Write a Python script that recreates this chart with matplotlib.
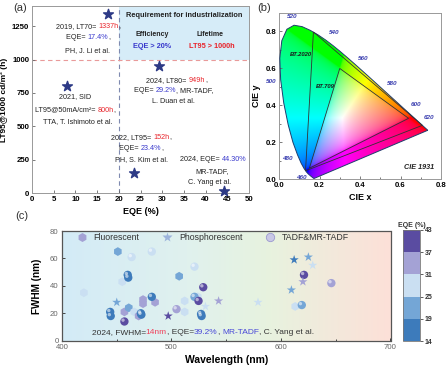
import numpy as np
import matplotlib
matplotlib.use('Agg')
import matplotlib.pyplot as plt
import matplotlib.transforms as mtransforms
from matplotlib.offsetbox import TextArea, HPacker, AnnotationBbox
from matplotlib.colors import ListedColormap, BoundaryNorm, LinearSegmentedColormap
from matplotlib.patches import Polygon, Rectangle
from matplotlib.lines import Line2D

plt.rcParams['font.family'] = ['Liberation Sans', 'DejaVu Sans']

# ---------------- Panel (a) data ----------------
eqe_a = [17.4, 8.0, 29.2, 23.4, 44.3]
lt_a = [1337, 800, 949, 152, 15]
xticks_a = [0, 5, 10, 15, 20, 25, 30, 35, 40, 45, 50]
yticks_a = [0, 250, 500, 750, 1000, 1250]
eqe_req = 20
lt_req = 1000

# ---------------- Panel (b) data: CIE 1931 spectral locus ----------------
locus_nm = [380, 400, 420, 430, 440, 450, 460, 465, 470, 475, 480, 485, 490, 495,
            500, 505, 510, 515, 520, 525, 530, 535, 540, 545, 550, 555, 560, 565,
            570, 575, 580, 585, 590, 595, 600, 605, 610, 620, 630, 640, 650, 660,
            680, 700]
locus_x = [0.1741, 0.1733, 0.1714, 0.1689, 0.1644, 0.1566, 0.1440, 0.1355, 0.1241,
           0.1096, 0.0913, 0.0687, 0.0454, 0.0235, 0.0082, 0.0039, 0.0139, 0.0389,
           0.0743, 0.1142, 0.1547, 0.1929, 0.2296, 0.2658, 0.3016, 0.3373, 0.3731,
           0.4087, 0.4441, 0.4788, 0.5125, 0.5448, 0.5752, 0.6029, 0.6270, 0.6482,
           0.6658, 0.6915, 0.7079, 0.7190, 0.7260, 0.7300, 0.7334, 0.7347]
locus_y = [0.0050, 0.0048, 0.0051, 0.0069, 0.0109, 0.0177, 0.0297, 0.0399, 0.0578,
           0.0868, 0.1327, 0.2007, 0.2950, 0.4127, 0.5384, 0.6548, 0.7502, 0.8120,
           0.8338, 0.8262, 0.8059, 0.7816, 0.7543, 0.7243, 0.6923, 0.6589, 0.6245,
           0.5896, 0.5547, 0.5202, 0.4866, 0.4544, 0.4242, 0.3965, 0.3725, 0.3514,
           0.3340, 0.3083, 0.2920, 0.2809, 0.2740, 0.2700, 0.2666, 0.2653]
label_nm = [460, 480, 500, 520, 540, 560, 580, 600, 620]
label_off = {460: (-5, -3), 480: (-7, -3), 500: (-7, -1), 520: (-1, 6), 540: (6, 5),
             560: (6, 4), 580: (7, 4), 600: (7, 4), 620: (7, 3.5)}
bt2020_x = [0.708, 0.170, 0.131]
bt2020_y = [0.292, 0.797, 0.046]
bt709_x = [0.64, 0.30, 0.15]
bt709_y = [0.33, 0.60, 0.06]

# ---------------- Panel (c) data ----------------
wl = [451, 463.6, 482, 521, 460, 460.5, 455, 507, 420, 450,
      444, 444.5, 457, 457, 461, 466, 472, 472.5, 470, 474,
      474, 482, 485, 497, 504.6, 512, 512, 521, 524, 529,
      524.7, 527, 527.5, 531, 543, 579, 612, 625, 629, 621,
      620, 609.5, 646, 619, 613]
fwhm = [65, 61, 65, 54, 48, 46, 43, 47, 35, 28,
        21, 18, 21, 14, 24, 21, 20, 19, 18, 30,
        27, 32, 28, 18, 23, 29, 21, 32, 32, 39,
        29, 19.5, 18, 25, 29, 28, 59, 61, 55, 48,
        43, 37, 42, 26, 25]
eqe_c = [22, 28, 27, 28, 16, 17, 27, 21, 28, 23,
         17, 16, 33, 39.2, 24, 27, 18, 17, 33, 34,
         33, 18, 34, 40, 33, 27, 26, 24, 26, 40,
         38, 17, 16, 28, 33, 27, 18, 23, 27, 40,
         34, 22, 34, 24, 27]
kind = ['F', 'T', 'T', 'T', 'T', 'T', 'F', 'F', 'F', 'P',
        'T', 'T', 'F', 'T', 'F', 'F', 'T', 'T', 'F', 'F',
        'F', 'T', 'F', 'P', 'T', 'F', 'F', 'T', 'F', 'T',
        'T', 'T', 'T', 'P', 'P', 'P', 'P', 'P', 'P', 'T',
        'P', 'P', 'T', 'T', 'F']
eqe_bounds = [14, 19, 25, 31, 37, 43]
eqe_colors = ['#3d7bbb', '#74a6d6', '#cadff2', '#a4a2d5', '#5a4ca1']

RED = '#e8242b'
BLUE = '#3838cc'
DARK = '#222222'

W, H = 447, 367
fig = plt.figure(figsize=(W / 100, H / 100), dpi=100)


def fr(l, t, r, b):
    return [l / W, 1 - b / H, (r - l) / W, (b - t) / H]


def rich(ax, x, y, parts, size=5.2, ha=0.5, weight='normal'):
    boxes = [TextArea(t, textprops=dict(color=c, fontsize=size, fontweight=weight))
             for t, c in parts]
    pack = HPacker(children=boxes, align='baseline', pad=0, sep=0)
    ab = AnnotationBbox(pack, (x, y), xycoords='data', frameon=False,
                        box_alignment=(ha, 0.5), pad=0, annotation_clip=False)
    ab.set_zorder(6)
    ax.add_artist(ab)


# ================= Panel (a) =================
axa = fig.add_axes(fr(32, 6, 249, 193.3))
axa.set_xlim(0, 50)
axa.set_ylim(0, 1400)
axa.add_patch(Rectangle((eqe_req, lt_req), 50 - eqe_req, 1400 - lt_req,
                        facecolor='#d6ecf8', edgecolor='none', zorder=0))
axa.axvline(eqe_req, color='#7f8ab0', ls=(0, (4, 3)), lw=0.8, zorder=1)
axa.axhline(lt_req, color='#e99a9a', ls=(0, (4, 3)), lw=0.8, zorder=1)
axa.scatter(eqe_a, lt_a, marker='*', s=55, color='#2d3a86', zorder=5, clip_on=False)
axa.set_xticks(xticks_a)
axa.set_yticks(yticks_a)
axa.tick_params(direction='in', length=2.5, width=0.6, color='#666', labelsize=5.6, pad=2)
for lab in axa.get_xticklabels() + axa.get_yticklabels():
    lab.set_fontweight('bold')
for s in axa.spines.values():
    s.set_color('#999')
    s.set_linewidth(0.7)
axa.set_xlabel('EQE (%)', fontsize=6.5, fontweight='bold', labelpad=3)
axa.set_ylabel('LT95@1000 cd/m² (h)', fontsize=6.0, fontweight='bold', labelpad=2)
axa.yaxis.set_label_coords(-0.111, 0.5)

axa.text(35, 1330, 'Requirement for industrialization', fontsize=5.3, fontweight='bold',
         ha='center', va='center', color=DARK)
axa.text(27.8, 1190, 'Efficiency', fontsize=5, fontweight='bold', ha='center', va='center', color=DARK)
axa.text(41, 1190, 'Lifetime', fontsize=5, fontweight='bold', ha='center', va='center', color=DARK)
axa.text(27.7, 1100, 'EQE > 20%', fontsize=5.3, fontweight='bold', ha='center', va='center', color=BLUE)
axa.text(41.4, 1100, 'LT95 > 1000h', fontsize=5.3, fontweight='bold', ha='center', va='center', color=RED)

rich(axa, 12.9, 1248, [('2019, LT70= ', DARK), ('1337h', RED), (',', DARK)])
rich(axa, 12.9, 1161, [('EQE= ', DARK), ('17.4%', BLUE), (',', DARK)])
rich(axa, 12.9, 1070, [('PH, J. Li et al.', DARK)])
rich(axa, 10.0, 721, [('2021, SID', DARK)])
rich(axa, 10.0, 621, [('LT95@50mA/cm²= ', DARK), ('800h', RED), (',', DARK)])
rich(axa, 10.6, 534, [('TTA, T. Ishimoto et al.', DARK)])
rich(axa, 33.3, 845, [('2024, LT80= ', DARK), ('949h', RED), (',', DARK)])
rich(axa, 32.6, 766, [('EQE= ', DARK), ('29.2%', BLUE), (', MR-TADF,', DARK)])
rich(axa, 32.6, 684, [('L. Duan et al.', DARK)])
rich(axa, 25.2, 420, [('2022, LT95= ', DARK), ('152h', RED), (',', DARK)])
rich(axa, 25.2, 337, [('EQE= ', DARK), ('23.4%', BLUE), (',', DARK)])
rich(axa, 25.3, 255, [('PH, S. Kim et al.', DARK)])
rich(axa, 34.2, 255, [('2024, EQE= ', DARK), ('44.30%', BLUE)], ha=0.0)
rich(axa, 41.6, 160, [('MR-TADF,', DARK)])
rich(axa, 41.0, 82, [('C. Yang et al.', DARK)])

fig.text(20 / W, 1 - 8 / H, '(a)', fontsize=8, ha='center', va='center', color='#333')

# ================= Panel (b) =================
axb = fig.add_axes(fr(279, 13, 441, 179.3))
axb.set_xlim(0, 0.8)
axb.set_ylim(0, 0.9)
gx = np.linspace(0, 0.8, 400)
gy = np.linspace(0, 0.9, 450)
GX, GY = np.meshgrid(gx, gy)
yy = np.maximum(GY, 2e-3)
Xc = GX / yy
Yc = np.ones_like(GX)
Zc = (1 - GX - GY) / yy
R = 3.2406 * Xc - 1.5372 * Yc - 0.4986 * Zc
G = -0.9689 * Xc + 1.8758 * Yc + 0.0415 * Zc
B = 0.0557 * Xc - 0.2040 * Yc + 1.0570 * Zc
rgb = np.clip(np.stack([R, G, B], -1), 0, None)
rgb = rgb / np.clip(rgb.max(axis=-1, keepdims=True), 1e-9, None)
rgb = rgb ** (1 / 3.0)
im = axb.imshow(rgb, extent=[0, 0.8, 0, 0.9], origin='lower', aspect='auto',
                interpolation='bilinear', zorder=1)
poly = Polygon(np.column_stack([locus_x, locus_y]), closed=True, facecolor='none',
               edgecolor='#1e3d6e', lw=0.7, zorder=3)
axb.add_patch(poly)
im.set_clip_path(poly)
axb.add_patch(Polygon(np.column_stack([bt2020_x, bt2020_y]), closed=True, facecolor='none',
                      edgecolor='#333', lw=0.6, zorder=3))
axb.add_patch(Polygon(np.column_stack([bt709_x, bt709_y]), closed=True, facecolor='none',
                      edgecolor='#333', lw=0.6, zorder=3))
for nm in label_nm:
    i = locus_nm.index(nm)
    axb.annotate(str(nm), (locus_x[i], locus_y[i]), xytext=label_off[nm],
                 textcoords='offset points', fontsize=4.6, fontweight='bold',
                 fontstyle='italic', color='#3b3fb0', ha='center', va='center',
                 annotation_clip=False, zorder=5)
axb.text(0.11, 0.675, 'BT.2020', fontsize=4.2, fontweight='bold', fontstyle='italic',
         color='#1a1a1a', ha='center', va='center', zorder=5)
axb.text(0.23, 0.5, 'BT.709', fontsize=4.2, fontweight='bold', fontstyle='italic',
         color='#1a1a1a', ha='center', va='center', zorder=5)
axb.text(0.69, 0.065, 'CIE 1931', fontsize=5.2, fontweight='bold', fontstyle='italic',
         color='#222', ha='center', va='center', zorder=5)
axb.set_xticks([0.0, 0.2, 0.4, 0.6, 0.8])
axb.set_yticks([0.0, 0.2, 0.4, 0.6, 0.8])
axb.set_xticks([0.1, 0.3, 0.5, 0.7], minor=True)
axb.set_yticks([0.1, 0.3, 0.5, 0.7], minor=True)
axb.tick_params(which='both', direction='in', length=2.2, width=0.6, color='#666',
                labelsize=5.6, pad=2)
axb.tick_params(which='minor', length=1.3)
for lab in axb.get_xticklabels() + axb.get_yticklabels():
    lab.set_fontweight('bold')
for s in axb.spines.values():
    s.set_color('#999')
    s.set_linewidth(0.7)
axb.set_xlabel('CIE x', fontsize=6.5, fontweight='bold', labelpad=3)
axb.set_ylabel('CIE y', fontsize=6.5, fontweight='bold', labelpad=3)
fig.text(264 / W, 1 - 8 / H, '(b)', fontsize=8, ha='center', va='center', color='#333')

# ================= Panel (c) =================
axc = fig.add_axes(fr(62, 231, 390.5, 340.7))
axc.set_xlim(400, 700)
axc.set_ylim(0, 80)
bg = LinearSegmentedColormap.from_list('bg', [(0, '#d3ebf7'), (0.38, '#e0f1ee'),
                                              (0.62, '#e7f3df'), (1.0, '#fde0d8')])
axc.imshow(np.linspace(0, 1, 256)[None, :], cmap=bg, extent=[400, 700, 0, 80],
           aspect='auto', zorder=0)
cmap = ListedColormap(eqe_colors)
norm = BoundaryNorm(eqe_bounds, cmap.N)
hl = mtransforms.offset_copy(axc.transData, fig=fig, x=-1.0, y=1.0, units='points')
wl_a = np.array(wl)
fw_a = np.array(fwhm)
eq_a = np.array(eqe_c)
kd = np.array(kind)
for k, mk, sz in [('F', 'h', 40), ('T', 'o', 36), ('P', '*', 48)]:
    m = kd == k
    axc.scatter(wl_a[m], fw_a[m], c=eq_a[m], cmap=cmap, norm=norm, marker=mk, s=sz,
                edgecolors='none', zorder=3)
    if k == 'T':
        axc.scatter(wl_a[m], fw_a[m], color='white', alpha=0.55, marker='o', s=6,
                    edgecolors='none', zorder=4, transform=hl)

handles = [Line2D([], [], ls='', marker='h', markersize=6.5, markerfacecolor='#a4a2d5',
                  markeredgecolor='none', label='Fluorescent'),
           Line2D([], [], ls='', marker='*', markersize=7, markerfacecolor='#9db4dc',
                  markeredgecolor='none', label='Phosphorescent'),
           Line2D([], [], ls='', marker='o', markersize=6, markerfacecolor='#c9c8e6',
                  markeredgecolor='#9c9ad0', markeredgewidth=0.6, label='TADF&MR-TADF')]
leg = axc.legend(handles=handles, ncol=3, loc='upper left', bbox_to_anchor=(0.04, 0.995),
                 frameon=False, fontsize=6.3, handletextpad=0.7, columnspacing=2.6,
                 handlelength=1.2, borderaxespad=0, borderpad=0.2)
for t in leg.get_texts():
    t.set_color('#333')

rich(axc, 427, 6.3, [('2024, FWHM=', '#333'), ('14nm', '#f0405a'), (', EQE=', '#333'),
                      ('39.2%', '#4848d8'), (', ', '#333'), ('MR-TADF', '#4848d8'),
                      (', C. Yang et al.', '#333')], size=6.0, ha=0.0)

axc.set_xticks([400, 500, 600, 700])
axc.set_xticks([450, 550, 650], minor=True)
axc.set_yticks([0, 20, 40, 60, 80])
axc.tick_params(which='both', direction='in', length=2.5, width=0.7, color='#444',
                labelsize=5.6, labelcolor='#666', pad=2.5)
axc.tick_params(which='minor', length=1.5)
for s in axc.spines.values():
    s.set_color('#555')
    s.set_linewidth(0.9)
axc.set_xlabel('Wavelength (nm)', fontsize=7.5, fontweight='bold', labelpad=3)
axc.set_ylabel('FWHM (nm)', fontsize=7.2, fontweight='bold', labelpad=6)
fig.text(22 / W, 1 - 216 / H, '(c)', fontsize=8, ha='center', va='center', color='#333')

# colorbar
cax = fig.add_axes(fr(403, 230, 420, 341))
sm = plt.cm.ScalarMappable(cmap=cmap, norm=norm)
cb = fig.colorbar(sm, cax=cax, ticks=eqe_bounds)
cb.ax.tick_params(labelsize=5, length=2, width=0.6, color='#444', pad=1.5)
for lab in cb.ax.get_yticklabels():
    lab.set_fontweight('bold')
    lab.set_color('#333')
cb.outline.set_edgecolor('#777')
cb.outline.set_linewidth(0.6)
cax.set_title('EQE (%)', fontsize=5, fontweight='bold', color='#333', pad=2)

fig.savefig('out.png', dpi=100)
